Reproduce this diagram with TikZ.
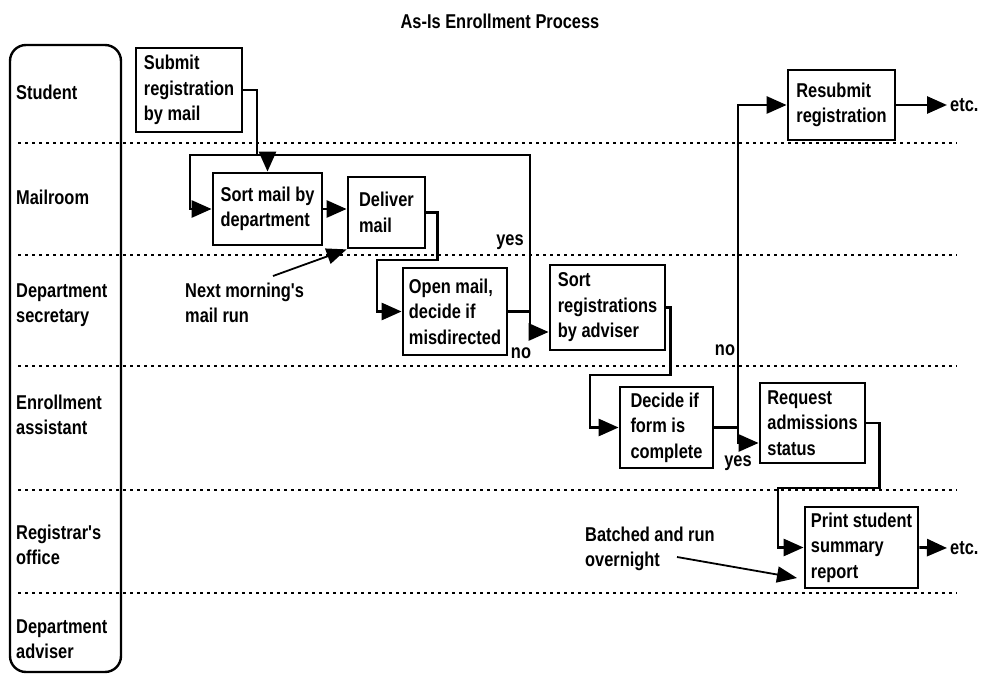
\documentclass[tikz,border=0pt]{standalone}
\usepackage{fontspec}
\setmainfont{Liberation Sans}
\newfontfamily\chartfont{Liberation Sans}[FakeStretch=0.82]
\usetikzlibrary{arrows.meta}
\begin{document}
\begin{tikzpicture}[x=1pt,y=-1pt,
  every node/.style={font=\chartfont\bfseries\fontsize{20}{25.5}\selectfont, inner sep=0pt},
  stepbox/.style 2 args={draw, line width=2.8pt, align=left,
    minimum width=#1, minimum height=#2},
  lanelabel/.style={anchor=west, align=left},
  note/.style={anchor=west, align=left},
  flow/.style={line width=2.8pt, line join=miter, -{Triangle[length=20pt,width=17pt]}},
  plain/.style={line width=2.8pt, line join=miter},
  pointer/.style={line width=1.8pt, -{Triangle[length=20pt,width=16pt]}},
  lanesep/.style={line width=2pt, dash pattern=on 3pt off 4pt},
]
\useasboundingbox (0,0) rectangle (983,676);

% title
\node (title) at (500,21) {As-Is Enrollment Process};

% swimlane frame and lane labels
\draw[line width=2.4pt, rounded corners=16pt] (10,45) rectangle (121,672);
\node[lanelabel] (lstudent) at (16,92) {Student};
\node[lanelabel] (lmail) at (16,197) {Mailroom};
\node[lanelabel] (lsec) at (16,305) {Department\\secretary};
\node[lanelabel] (lenroll) at (16,415) {Enrollment\\assistant};
\node[lanelabel] (lreg) at (16,545) {Registrar's\\office};
\node[lanelabel] (ladv) at (16,639) {Department\\adviser};

% lane separators
\foreach \y in {143,255,366,490,593}
  \draw[lanesep] (18,\y) -- (957,\y);

% process steps
\node[stepbox={106pt}{84pt}] (sub) at (189,90) {Submit\\registration\\by mail};
\node[stepbox={109pt}{72pt}] (sortmail) at (267.5,209) {Sort mail by\\department};
\node[stepbox={77pt}{71pt}] (deliver) at (386.5,212.5) {Deliver\\mail};
\node[stepbox={104pt}{87pt}] (open) at (455,311.5) {Open mail,\\decide if\\misdirected};
\node[stepbox={115pt}{85pt}] (sortreg) at (607.5,307.5) {Sort\\registrations\\by adviser};
\node[stepbox={93pt}{81pt}] (decide) at (666.5,427.5) {Decide if\\form is\\complete};
\node[stepbox={105pt}{80pt}] (request) at (812.5,423) {Request\\admissions\\status};
\node[stepbox={113pt}{81pt}] (print) at (861.5,547.5) {Print student\\summary\\report};
\node[stepbox={107pt}{70pt}] (resub) at (841.5,105) {Resubmit\\registration};

% end markers
\node[anchor=west, inner xsep=3pt] (etcA) at (947,105) {etc.};
\node[anchor=west, inner xsep=3pt] (etcB) at (947,548) {etc.};

% notes
\node[note] (nextrun) at (185,303) {Next morning's\\mail run};
\node[note] (batch) at (585,549) {Batched and run\\overnight};
\coordinate (nextrunTail) at (273,276);
\coordinate (batchTail) at (677,557);
\coordinate (batchTip) at (797,578);

% branch labels
\node (yesA) at (510,242) {yes};
\node (noA) at (521,353) {no};
\node (noB) at (725,350) {no};
\node (yesB) at (738,463) {yes};

% connectors
\draw[flow] (sub.east) -- (257,90) -- (257,155) -- (190,155) |- (sortmail.west);
\draw[plain] (open.east) -| (530,155) -- (257,155);
\draw[flow] (sortmail.north |- 0,155) -- (sortmail.north);
\draw[flow] (open.east) -| (530,332) -- ([yshift=-24.5pt]sortreg.west);
\draw[flow] (sortmail.east) -- (sortmail.east -| deliver.west);
\draw[flow] (deliver.east) -- ++(11,0) |- (377,260) |- (open.west);
\draw[flow] (sortreg.east) -- ++(4,0) |- (590,375) |- (decide.west);
\draw[flow] (decide.east) -| (738,105) -- (resub.west);
\draw[flow] (decide.east) -| (738,443) -- ([yshift=-20pt]request.west);
\draw[flow] (request.east) -- ++(13,0) |- (778,488) |- (print.west);
\draw[flow] (resub.east) -- (etcA.west);
\draw[flow] (print.east) -- (etcB.west);
\draw[pointer] (nextrunTail) -- (deliver.south west);
\draw[pointer] (batchTail) -- (batchTip);
\end{tikzpicture}
\end{document}
